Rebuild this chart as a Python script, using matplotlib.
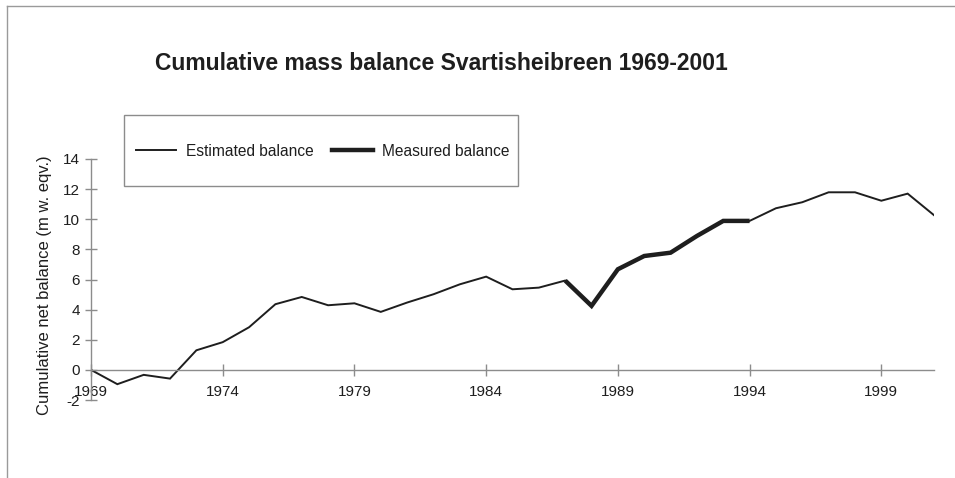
import matplotlib
matplotlib.use("Agg")
import matplotlib.pyplot as plt
from matplotlib.lines import Line2D
from matplotlib.patches import Rectangle

plt.rcParams['font.family'] = ['Liberation Sans', 'DejaVu Sans']
plt.rcParams['axes.unicode_minus'] = False

years = list(range(1969, 2002))
balance = [0.0, -0.95, -0.33, -0.58, 1.30, 1.84, 2.83, 4.36, 4.84, 4.29,
           4.42, 3.85, 4.47, 5.02, 5.68, 6.19, 5.35, 5.46, 5.93, 4.25,
           6.68, 7.56, 7.78, 8.89, 9.89, 9.89, 10.73, 11.13, 11.79, 11.79,
           11.23, 11.70, 10.27]
measured_start, measured_end = 1987, 1994
xtick_years = [1969, 1974, 1979, 1984, 1989, 1994, 1999]
yticks = [-2, 0, 2, 4, 6, 8, 10, 12, 14]

title = "Cumulative mass balance Svartisheibreen 1969-2001"
ylabel = "Cumulative net balance (m w. eqv.)"
legend_labels = ["Estimated balance", "Measured balance"]

W, H = 955, 478
fig = plt.figure(figsize=(W / 100, H / 100), dpi=100)

def fx(px):
    return px / W

def fy(py):
    return 1 - py / H

axis_col = "#8c8c8c"
line_col = "#1e1e1e"
text_col = "#1e1e1e"

left, right, top, bottom = 91, 934, 159, 400
ax = fig.add_axes([fx(left), fy(bottom), fx(right - left), (bottom - top) / H])

ax.plot(years, balance, color=line_col, lw=1.4, solid_joinstyle='miter')
i0 = years.index(measured_start)
i1 = years.index(measured_end)
ax.plot(years[i0:i1 + 1], balance[i0:i1 + 1], color=line_col, lw=3.2,
        solid_joinstyle='miter', solid_capstyle='butt')

ax.set_xlim(1969, 2001)
ax.set_ylim(-2, 14)
ax.set_xticks(xtick_years)
ax.set_yticks(yticks)
ax.spines['top'].set_visible(False)
ax.spines['right'].set_visible(False)
ax.spines['bottom'].set_position(('data', 0))
for s in ('left', 'bottom'):
    ax.spines[s].set_color(axis_col)
    ax.spines[s].set_linewidth(1.0)
ax.tick_params(axis='both', direction='inout', length=8, width=1.0,
               color=axis_col, labelsize=11, labelcolor=text_col)
ax.tick_params(axis='x', pad=7)
ax.tick_params(axis='y', pad=4)
ax.patch.set_visible(False)

fig.text(fx(441), fy(63), title, ha='center', va='center',
         fontsize=16.5, fontweight='bold', color=text_col)
fig.text(fx(45), fy(285), ylabel, rotation=90, ha='center', va='center',
         fontsize=12, color=text_col)

# legend box
fig.patches.append(Rectangle((fx(124), fy(186)), fx(518 - 124), (186 - 115) / H,
                             transform=fig.transFigure, fill=False,
                             edgecolor=axis_col, lw=1.0))
handles = [Line2D([], [], color=line_col, lw=1.4),
           Line2D([], [], color=line_col, lw=3.2)]
leg = fig.legend(handles, legend_labels, ncol=2, frameon=False, fontsize=11.2,
                 loc='center left', bbox_to_anchor=(fx(136), fy(151)),
                 handlelength=2.6, handletextpad=0.6, columnspacing=1.2,
                 borderpad=0, borderaxespad=0)
for t in leg.get_texts():
    t.set_color(text_col)

# outer border (top and left)
fig.add_artist(Line2D([fx(7), 1], [fy(6), fy(6)], transform=fig.transFigure,
                      color="#9a9a9a", lw=1.0))
fig.add_artist(Line2D([fx(7), fx(7)], [fy(6), 0], transform=fig.transFigure,
                      color="#9a9a9a", lw=1.0))

fig.savefig("out.png", dpi=100)
